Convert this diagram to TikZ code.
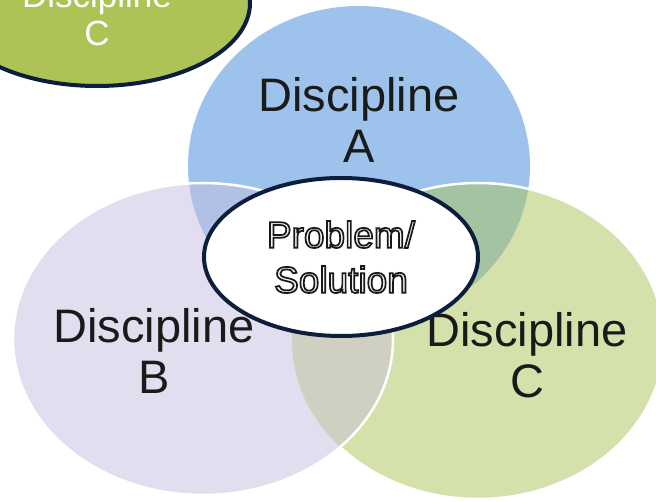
\documentclass[tikz,border=0pt]{standalone}
\usepackage{fontspec}
\setmainfont{Liberation Sans}
\usetikzlibrary{shapes}

\definecolor{discA}{RGB}{157,195,236}
\definecolor{discB}{RGB}{227,222,239}
\definecolor{discC}{RGB}{212,225,171}
\definecolor{lapAB}{RGB}{179,192,230}
\definecolor{lapAC}{RGB}{163,195,162}
\definecolor{lapBC}{RGB}{207,208,194}
\definecolor{topgreen}{RGB}{174,195,86}
\definecolor{navy}{RGB}{12,29,62}
\definecolor{txtgray}{RGB}{26,26,26}

\def\ellA{(359,335) ellipse [x radius=171, y radius=160]}
\def\ellB{(203,162) ellipse [x radius=190, y radius=156]}
\def\ellC{(478,160) ellipse [x radius=186, y radius=158]}
\newcommand\hollow[1]{\special{pdf:literal direct 0.95 g 0.1 G 2 Tr 1.7 w}#1\special{pdf:literal direct 0 Tr 0.102 g 0.102 G}}

\begin{document}
\begin{tikzpicture}[x=1pt,y=1pt]
			\tikzstyle{ring}=[draw=white, line width=2.5pt]
			\tikzstyle{disclabel}=[align=center, inner sep=0pt, text=txtgray, font=\fontsize{47}{51}\selectfont]
			\clip (0,0) rectangle (656,501);
			\useasboundingbox (0,0) rectangle (656,501);

			\fill[discA] \ellA;
			\fill[discC] \ellC;
			\begin{scope}
				\clip \ellC;
				\fill[lapAC] \ellA;
			\end{scope}
			\draw[ring] \ellC;
			\fill[discB] \ellB;
			\begin{scope}
				\clip \ellB;
				\fill[lapAB] \ellA;
				\fill[lapBC] \ellC;
			\end{scope}
			\draw[ring] \ellB;

			\node[disclabel] (labA) at (359,381) {Discipline\\A};
			\node[disclabel] (labB) at (154,150.5) {Discipline\\B};
			\node[disclabel] (labC) at (527,146) {Discipline\\C};

			\node[ellipse, draw=navy, line width=4pt, fill=white, minimum width=274pt, minimum height=158pt, inner sep=0pt, align=center, text=txtgray, font=\fontsize{37}{45}\selectfont] (core) at (341,244) {\hollow{Problem/}\\\hollow{Solution}};

			\draw[navy, line width=4pt, fill=topgreen] (97,498) ellipse [x radius=153, y radius=83];
			\node[align=center, inner sep=0pt, text=white, font=\fontsize{35}{38}\selectfont] (labTop) at (97,487.5) {Discipline\\C};
\end{tikzpicture}
\end{document}
